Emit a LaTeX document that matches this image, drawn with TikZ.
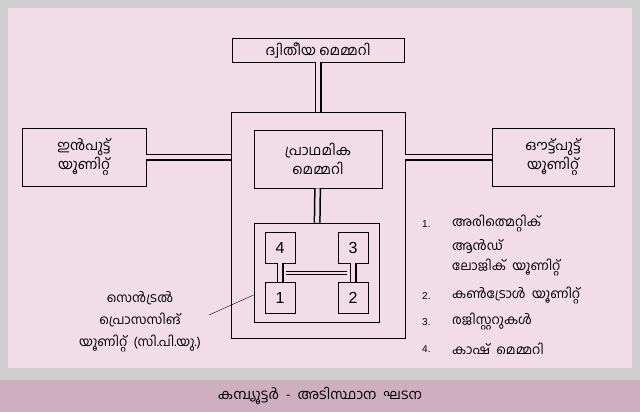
\documentclass[tikz,border=0pt]{standalone}
\usepackage{fontspec}
\setmainfont{Liberation Sans}
\newfontfamily\mlfont[Script=Malayalam]{Hind Kochi}
\usetikzlibrary{positioning}
\definecolor{bgpink}{HTML}{F2DCE8}
\definecolor{framegray}{HTML}{CFCFCF}
\definecolor{barpink}{HTML}{CFAFBF}
\tikzset{
  unitbox/.style={draw, thick, minimum width=#1, inner sep=0pt, align=center, font=\mlfont\fontsize{14}{19}\selectfont},
  unitbox/.default=124pt,
  regbox/.style={draw, thick, minimum width=30pt, minimum height=31pt, inner sep=0pt, font=\fontsize{16}{16}\selectfont},
  bus/.style={double=bgpink, double distance=4pt, line width=1.5pt},
  thinbus/.style={double=bgpink, double distance=2.5pt, line width=0.8pt},
  listtext/.style={anchor=west, inner sep=0pt, font=\mlfont\fontsize{13}{15}\selectfont},
  listnum/.style={anchor=west, inner sep=0pt, font=\fontsize{10}{10}\selectfont}
}
\begin{document}
\begin{tikzpicture}[x=1pt, y=-1pt]
\fill[framegray] (0,0) rectangle (640,412);
\fill[bgpink] (8,8) rectangle (632,368);
\fill[barpink] (0,380) rectangle (640,412);
\useasboundingbox (0,0) rectangle (640,412);
% boxes
\node[unitbox=172pt, minimum height=24pt] (second) at (318,50) {ദ്വിതീയ മെമ്മറി};
\node[draw, thick, minimum width=174pt, minimum height=226pt] (outer) at (318,225) {};
\node[unitbox=128pt, minimum height=58pt] (primary) at (318,159) {പ്രാഥമിക\\മെമ്മറി};
\node[draw, thick, minimum width=125pt, minimum height=99pt] (inner) at (316.5,272.5) {};
\node[unitbox, minimum height=58pt] (input) at (84,157) {ഇൻപുട്ട്\\യൂണിറ്റ്};
\node[unitbox=122pt, minimum height=58pt] (output) at (553,157) {ഔട്ട്പുട്ട്\\യൂണിറ്റ്};
\node[regbox] (r4) at (280,247.5) {4};
\node[regbox] (r3) at (353,247.5) {3};
\node[regbox] (r1) at (280,298) {1};
\node[regbox] (r2) at (353,298) {2};
% buses
\draw[bus] (second) -- (outer);
\draw[bus] (input.east) -- (input.east -| outer.west);
\draw[bus] (output.west -| outer.east) -- (output.west);
\draw[bus] (primary) -- (inner);
\draw[bus] (r4) -- (r1);
\draw[bus] (r3) -- (r2);
\draw[thinbus] (286,273) -- (347,273);
% cpu label
\node[inner sep=0pt, align=center, font=\mlfont\fontsize{13}{22}\selectfont] (cpu) at (140,322) {സെൻട്രൽ\\പ്രൊസസിങ്\\യൂണിറ്റ്\ \ (സി.പി.യു.)};
\coordinate (cpuend) at (209,315);
\draw (cpuend) -- (inner.west |- 0,295);
% list
\node[listnum] (n1) at (422,224) {1.};
\node[listtext] (t1) at (452,224) {അരിത്മെറ്റിക്};
\node[listtext] (t1b) at (452,246) {ആൻഡ്};
\node[listtext] (t1c) at (452,268) {ലോജിക്\ \ യൂണിറ്റ്};
\node[listnum] (n2) at (422,296) {2.};
\node[listtext] (t2) at (452,296) {കൺട്രോൾ\ \ യൂണിറ്റ്};
\node[listnum] (n3) at (422,322) {3.};
\node[listtext] (t3) at (452,322) {രജിസ്റ്ററുകൾ};
\node[listnum] (n4) at (422,349) {4.};
\node[listtext] (t4) at (452,349) {കാഷ്\ \ മെമ്മറി};
% caption
\node[inner sep=0pt, font=\mlfont\fontsize{14}{16}\selectfont] (caption) at (320,396) {കമ്പ്യൂട്ടർ\ \ -\ \ അടിസ്ഥാന\ \ ഘടന};
\end{tikzpicture}
\end{document}
